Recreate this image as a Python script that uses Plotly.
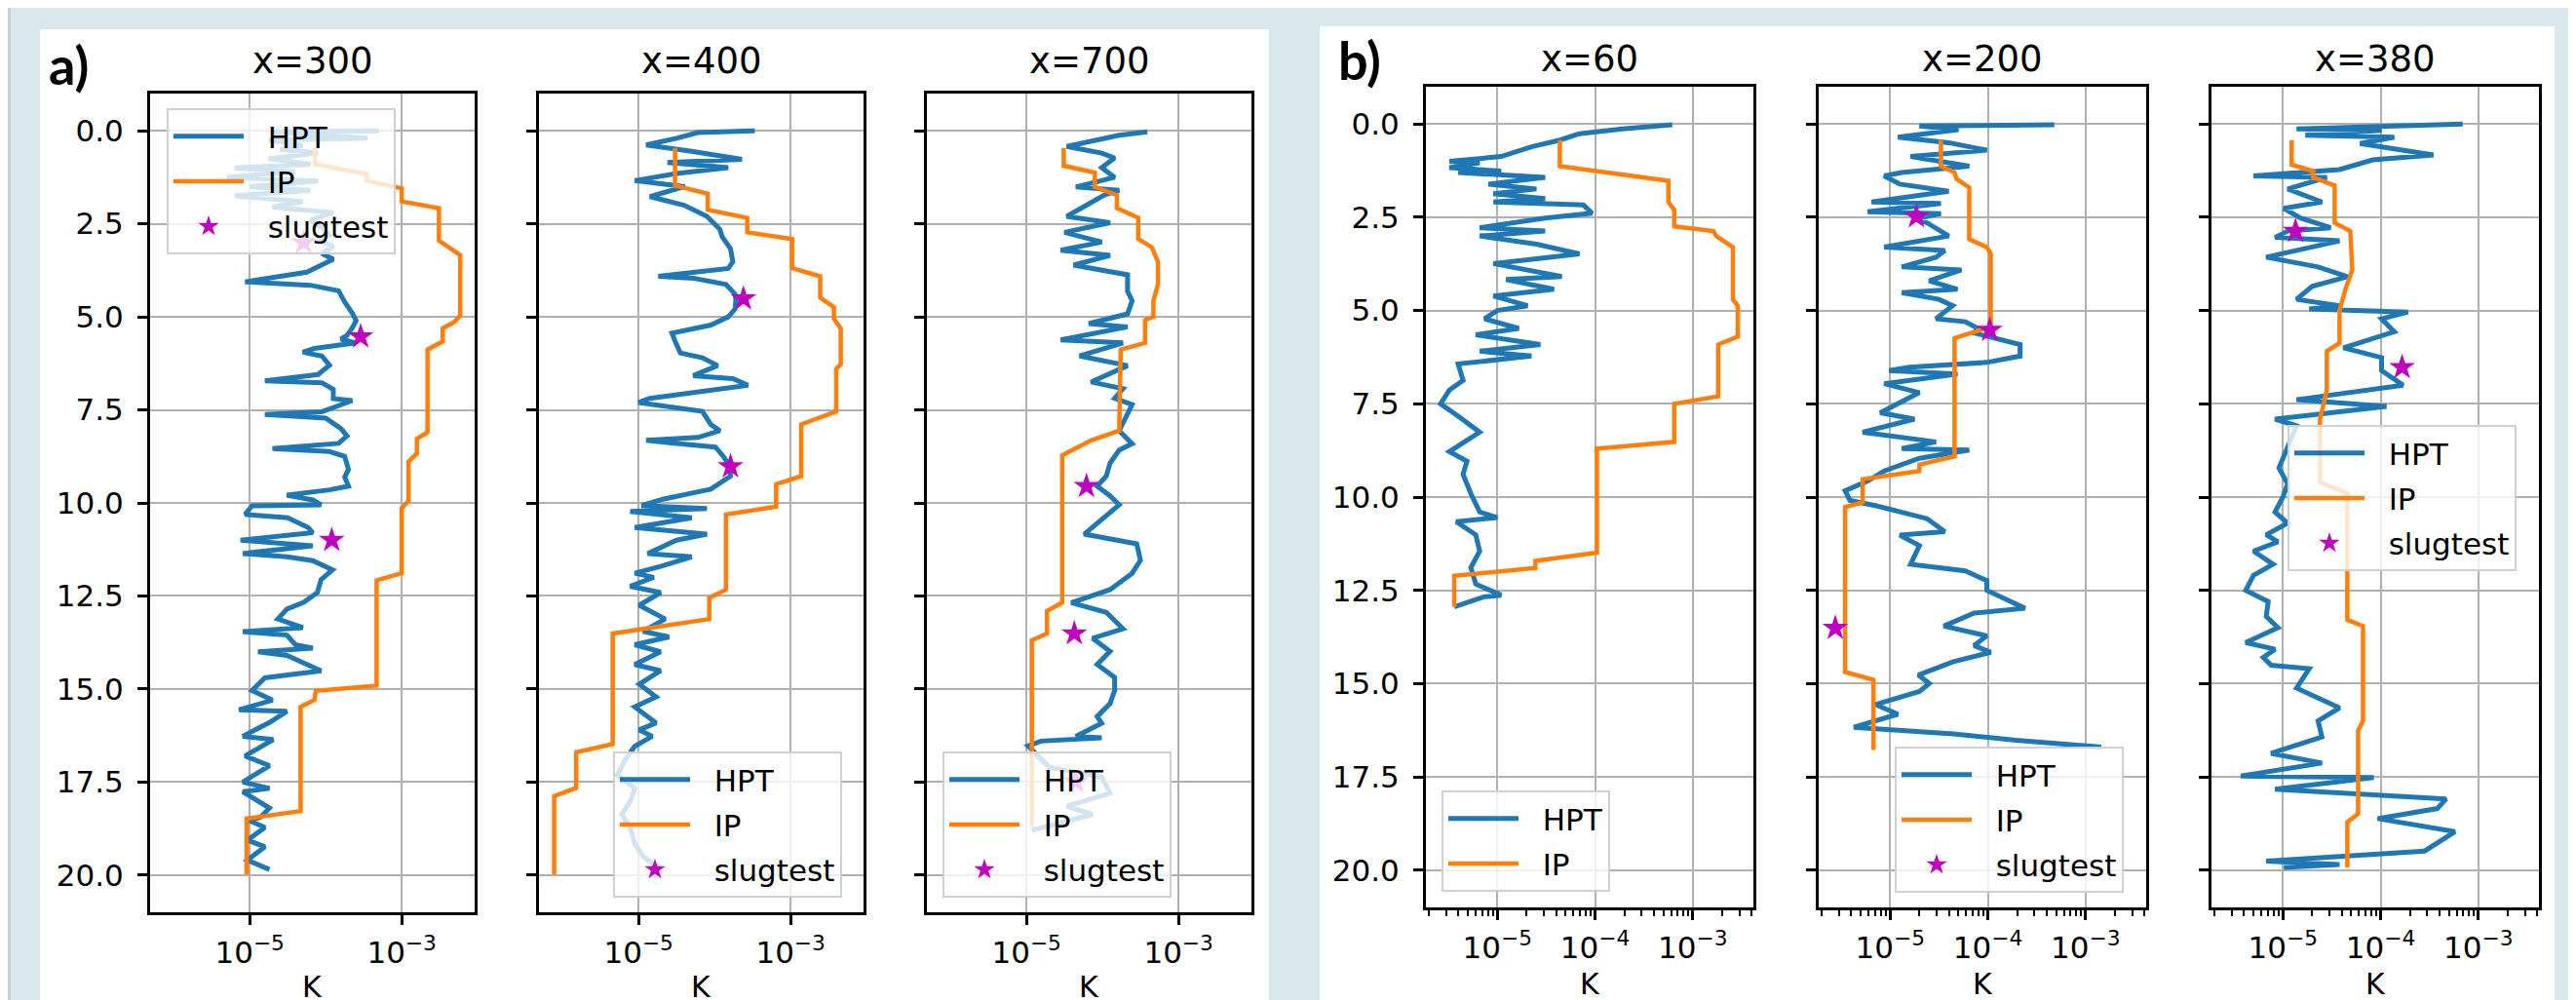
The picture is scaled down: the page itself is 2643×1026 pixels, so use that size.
import plotly.graph_objects as go

W, H = 2643, 1026

# ---------------- DATA (depth in m, log10 of K) ----------------
# Panel a) x=300
hpt_x300_depth = [0.00,0.03,0.10,0.20,0.25,0.40,0.50,0.60,0.75,0.90,1.00,1.10,1.25,1.35,1.50,1.60,1.75,1.90,2.05,2.20,
                  2.40,2.60,2.80,2.95,3.10,3.30,3.45,3.60,3.80,4.06,4.15,4.30,4.60,4.90,5.10,5.30,5.50,5.60,5.70,5.85,
                  5.95,6.05,6.30,6.55,6.72,6.77,6.95,7.20,7.25,7.40,7.55,7.62,7.72,8.00,8.20,8.40,8.54,8.62,8.75,9.10,
                  9.30,9.55,9.65,9.79,9.92,10.05,10.08,10.31,10.40,10.66,10.80,11.00,11.15,11.36,11.45,11.55,11.80,12.06,12.41,12.67,
                  12.85,13.12,13.35,13.46,13.55,13.81,13.90,14.00,14.10,14.51,14.70,15.04,15.30,15.56,15.60,15.90,16.27,16.36,16.80,17.06,
                  17.50,17.67,17.76,18.20,18.45,18.54,18.72,19.06,19.24,19.60,19.85]
hpt_x300_logk = [-3.30,-4.70,-4.20,-3.45,-4.75,-4.30,-4.60,-4.10,-4.75,-4.20,-5.20,-4.40,-5.30,-4.10,-5.00,-4.20,-5.20,-4.30,-4.70,-3.90,
                 -4.20,-4.05,-3.95,-4.10,-3.90,-4.05,-3.90,-4.05,-4.25,-5.06,-4.20,-3.83,-3.75,-3.65,-3.60,-3.65,-3.72,-3.80,-3.60,-4.15,
                 -4.30,-4.05,-3.95,-4.10,-4.80,-4.05,-3.90,-3.90,-3.65,-3.85,-4.05,-4.80,-4.00,-3.80,-3.72,-3.83,-4.70,-3.95,-3.75,-3.70,
                 -3.75,-3.70,-3.95,-4.51,-4.17,-4.06,-4.97,-5.06,-4.50,-4.23,-4.17,-5.12,-4.17,-5.09,-4.51,-4.17,-3.91,-4.06,-4.11,-4.29,
                 -4.51,-4.63,-4.30,-5.09,-4.51,-4.40,-4.17,-4.89,-4.51,-4.06,-4.80,-4.97,-4.70,-5.14,-4.51,-4.74,-5.09,-4.69,-5.06,-4.74,
                 -5.09,-4.74,-5.09,-4.74,-4.86,-5.00,-4.80,-5.03,-4.80,-5.03,-4.74]
ip_x300_depth = [0.46,0.90,1.16,1.34,1.55,1.90,2.08,2.95,3.34,4.96,5.14,5.31,5.66,5.88,8.10,8.28,8.67,8.89,9.95,10.14,
                 11.89,12.08,14.91,15.05,15.30,15.48,18.28,18.48,19.98]
ip_x300_logk = [-4.14,-4.14,-3.46,-3.46,-3.00,-3.00,-2.51,-2.51,-2.23,-2.23,-2.31,-2.46,-2.46,-2.66,-2.66,-2.80,-2.80,-2.91,-2.91,-3.00,
                -3.00,-3.33,-3.33,-4.13,-4.15,-4.33,-4.33,-5.04,-5.04]
slug_x300_depth = [3.0, 5.53, 11.0]
slug_x300_logk = [-4.29, -3.54, -3.92]

# Panel a) x=400
hpt_x400_depth = [0.00,0.05,0.20,0.38,0.55,0.77,0.85,0.99,1.15,1.34,1.50,1.77,2.00,2.30,2.65,2.85,3.17,3.52,3.70,3.91,
                  3.96,4.13,4.39,4.55,4.79,5.00,5.22,5.44,5.70,5.97,6.10,6.31,6.58,6.66,6.84,7.01,7.19,7.30,7.40,7.54,
                  7.89,8.06,8.24,8.32,8.40,8.50,8.76,9.02,9.28,9.63,9.90,10.07,10.15,10.23,10.40,10.66,10.84,11.00,11.36,11.45,
                  11.70,11.89,12.00,12.24,12.41,12.75,13.12,13.45,13.60,13.81,14.00,14.34,14.51,14.87,15.21,15.48,15.91,16.10,16.27,16.54,
                  16.88,17.32,17.67,18.02,18.37,18.72,19.15,19.50,19.85]
hpt_x400_logk = [-3.47,-4.22,-4.50,-4.90,-4.30,-3.64,-4.62,-3.82,-4.50,-5.05,-4.39,-4.85,-4.40,-4.10,-3.93,-3.90,-3.79,-3.76,-3.82,-4.74,
                 -4.28,-3.85,-3.73,-3.72,-3.73,-3.82,-4.05,-4.56,-4.51,-4.45,-4.16,-3.96,-4.28,-3.76,-3.56,-4.22,-4.85,-5.00,-4.60,-4.16,
                 -4.05,-3.93,-4.22,-4.90,-4.50,-3.99,-3.88,-3.80,-3.79,-4.05,-4.68,-4.96,-4.10,-5.11,-4.30,-5.05,-4.10,-4.50,-4.88,-4.30,
                 -4.70,-5.05,-4.80,-5.11,-4.71,-4.99,-4.65,-4.94,-4.60,-5.05,-4.71,-5.05,-4.71,-4.99,-4.77,-5.05,-4.77,-4.99,-4.82,-5.05,
                 -5.17,-5.28,-5.05,-5.11,-5.22,-5.11,-5.05,-4.94,-4.71]
ip_x400_depth = [0.46,1.47,1.69,2.12,2.34,2.73,2.91,3.69,3.91,4.48,4.74,5.05,5.31,6.27,6.40,7.54,7.89,9.28,9.50,10.10,
                 10.31,12.33,12.55,13.12,13.51,16.48,16.70,17.66,17.88,19.98]
ip_x400_logk = [-4.52,-4.52,-4.09,-4.09,-3.57,-3.57,-2.98,-2.98,-2.61,-2.61,-2.43,-2.43,-2.34,-2.34,-2.40,-2.40,-2.86,-2.86,-3.19,-3.19,
                -3.85,-3.85,-4.07,-4.07,-5.34,-5.34,-5.82,-5.82,-6.11,-6.11]
slug_x400_depth = [4.51, 9.02]
slug_x400_logk = [-3.62, -3.79]

# Panel a) x=700
hpt_x700_depth = [0.03,0.12,0.42,0.60,0.73,0.99,1.25,1.51,1.60,1.73,2.30,2.47,2.73,2.99,3.21,3.35,3.61,3.87,4.31,4.57,
                  4.92,5.18,5.27,5.62,5.70,6.05,6.31,6.75,6.93,7.19,7.36,7.89,8.06,8.41,8.58,8.93,9.28,9.55,9.81,10.05,
                  10.84,11.10,11.54,11.89,12.33,12.68,12.94,13.38,13.64,13.99,14.34,14.69,15.04,15.39,15.74,15.92,16.27,16.31,16.40,16.53,
                  17.10,17.37,17.80,18.15,18.37,18.80]
hpt_x700_logk = [-3.41,-3.78,-4.47,-4.01,-3.84,-4.01,-3.84,-4.35,-3.78,-3.98,-4.47,-3.90,-4.50,-4.01,-4.55,-3.90,-4.38,-3.67,-3.67,-3.61,
                 -3.67,-4.18,-3.67,-4.55,-3.73,-4.30,-3.67,-4.15,-3.73,-3.84,-3.61,-3.73,-3.78,-3.61,-3.78,-3.90,-3.95,-4.07,-3.90,-3.78,
                 -4.24,-3.55,-3.50,-3.61,-3.90,-4.41,-3.95,-3.73,-4.13,-3.90,-4.07,-3.84,-3.84,-3.90,-4.07,-4.01,-4.35,-4.01,-4.81,-4.98,
                 -4.70,-4.01,-3.90,-4.47,-4.13,-4.93]
ip_x700_depth = [0.46,0.94,1.12,1.51,1.73,2.08,2.34,2.91,3.13,3.52,4.13,4.57,5.00,5.09,5.70,5.88,8.06,8.32,8.72,12.68,
                 12.90,13.51,13.69,18.71]
ip_x700_logk = [-4.51,-4.51,-4.10,-4.10,-3.81,-3.81,-3.53,-3.53,-3.35,-3.27,-3.27,-3.33,-3.33,-3.44,-3.44,-3.76,-3.78,-4.15,-4.53,-4.53,
                -4.73,-4.73,-4.93,-4.93]
slug_x700_depth = [9.55, 13.51, 17.49]
slug_x700_logk = [-4.21, -4.37, -4.35]

# Panel b) x=60
hpt_x60_depth = [0.02,0.13,0.26,0.43,0.61,0.87,1.00,1.04,1.17,1.26,1.30,1.43,1.61,1.74,1.87,2.00,2.09,2.17,2.39,2.52,
                 2.78,2.87,3.00,3.22,3.48,3.74,4.09,4.17,4.43,4.61,4.87,5.00,5.22,5.48,5.65,5.91,6.09,6.22,6.43,6.87,
                 7.13,7.50,7.83,8.26,8.78,9.04,9.39,9.91,10.40,10.55,10.66,11.01,11.45,11.89,12.33,12.63,12.67,12.94]
hpt_x60_logk = [-3.21,-3.72,-4.16,-4.36,-4.65,-4.96,-5.49,-5.18,-5.49,-4.96,-5.40,-4.51,-5.09,-4.60,-5.04,-4.51,-5.04,-4.12,-4.03,-4.51,
                -5.18,-4.51,-5.18,-4.60,-4.16,-5.04,-4.34,-4.91,-4.42,-5.04,-4.69,-5.00,-5.13,-4.78,-5.22,-4.56,-5.18,-4.65,-5.40,-5.35,
                -5.49,-5.58,-5.40,-5.18,-5.49,-5.31,-5.35,-5.27,-5.18,-5.00,-5.42,-5.22,-5.18,-5.27,-5.22,-4.96,-5.13,-5.44]
ip_x60_depth = [0.43,1.13,1.52,2.09,2.30,2.74,2.87,3.00,3.30,4.70,4.87,5.70,5.91,7.30,7.50,8.52,8.70,11.49,11.71,11.90,
                12.11,12.94]
ip_x60_logk = [-4.36,-4.36,-3.25,-3.25,-3.19,-3.19,-2.79,-2.76,-2.59,-2.59,-2.54,-2.54,-2.74,-2.74,-3.19,-3.19,-3.98,-3.98,-4.61,-4.61,
               -5.44,-5.44]

# Panel b) x=200
hpt_x200_depth = [0.02,0.05,0.15,0.35,0.50,0.70,0.87,1.13,1.30,1.39,1.61,1.80,2.09,2.13,2.35,2.40,2.55,2.65,3.00,3.30,
                  3.39,3.57,3.83,3.91,4.20,4.43,4.52,4.70,4.87,5.22,5.30,5.48,5.60,5.91,6.22,6.39,6.52,6.61,6.70,6.96,
                  7.20,7.48,7.74,7.91,8.26,8.52,8.70,8.74,8.96,9.30,9.57,9.83,10.09,10.23,10.53,10.58,10.93,11.02,11.30,11.80,
                  11.98,12.24,12.50,12.98,13.11,13.46,13.72,13.98,14.16,14.42,14.77,15.00,15.21,15.56,15.82,16.17,16.35,16.52,16.70]
hpt_x200_logk = [-3.32,-4.70,-4.30,-4.92,-4.40,-4.01,-4.79,-4.19,-4.88,-5.06,-4.90,-4.40,-5.19,-4.48,-5.23,-4.48,-4.75,-4.62,-4.40,-5.06,
                 -4.44,-4.53,-4.88,-4.27,-4.60,-4.31,-4.88,-4.50,-4.36,-4.53,-4.23,-4.10,-4.14,-3.67,-3.67,-4.01,-4.80,-5.01,-4.31,-5.06,
                 -4.70,-4.92,-5.10,-4.75,-5.28,-4.53,-4.88,-4.19,-4.70,-5.06,-5.23,-5.46,-5.41,-5.15,-4.70,-4.62,-4.44,-4.90,-4.70,-4.79,
                 -4.23,-4.01,-4.01,-3.62,-4.14,-4.45,-4.01,-4.14,-3.97,-4.36,-4.71,-4.60,-4.70,-5.15,-4.92,-5.37,-4.35,-3.71,-2.84]
ip_x200_depth = [0.43,1.13,1.30,1.47,1.70,3.09,3.30,3.48,5.43,5.74,8.91,9.13,9.30,9.52,10.14,10.27,14.69,14.90,16.78]
ip_x200_logk = [-4.48,-4.48,-4.34,-4.32,-4.19,-4.19,-4.01,-3.97,-3.97,-4.34,-4.34,-4.70,-4.70,-5.28,-5.28,-5.46,-5.46,-5.17,-5.17]
slug_x200_depth = [2.48, 5.52, 13.51]
slug_x200_logk = [-4.73, -3.98, -5.56]

# Panel b) x=380
hpt_x380_depth = [0.00,0.13,0.17,0.30,0.35,0.52,0.83,0.96,1.22,1.39,1.43,1.74,2.09,2.26,2.52,2.78,2.87,3.04,3.13,3.57,
                  3.83,4.09,4.35,4.70,4.87,4.96,5.04,5.22,5.57,6.00,6.26,6.61,7.00,7.39,7.57,7.91,8.09,8.87,9.22,9.65,
                  10.00,10.40,10.70,11.01,11.20,11.45,11.80,12.10,12.50,12.80,13.20,13.50,13.90,14.08,14.30,14.51,14.60,15.12,15.65,16.00,
                  16.43,16.87,17.13,17.48,17.52,17.83,18.09,18.35,18.62,18.97,19.49,19.76,19.85,19.93]
hpt_x380_logk = [-3.16,-4.86,-3.99,-4.77,-3.86,-4.21,-3.46,-4.08,-4.42,-5.30,-4.55,-4.95,-4.60,-4.99,-4.82,-4.51,-4.95,-5.08,-4.42,-5.17,
                 -4.64,-4.34,-4.70,-4.86,-4.42,-4.73,-3.72,-3.99,-3.86,-4.38,-3.99,-3.99,-3.77,-4.86,-3.94,-5.08,-4.86,-4.99,-5.04,-4.95,
                 -5.00,-5.08,-4.95,-5.17,-5.05,-5.30,-5.10,-5.30,-5.38,-5.15,-5.17,-5.05,-5.38,-5.08,-5.20,-5.12,-4.73,-4.86,-4.42,-4.64,
                 -4.60,-5.12,-4.60,-5.43,-4.07,-5.08,-3.33,-3.42,-4.03,-3.24,-3.55,-5.17,-4.42,-4.99]
ip_x380_depth = [0.43,1.09,1.26,1.43,1.65,2.65,2.87,3.91,4.43,5.00,5.87,6.09,7.13,7.91,9.60,9.90,13.29,13.46,16.00,16.26,
                 18.49,18.71,19.93]
ip_x380_logk = [-4.91,-4.91,-4.69,-4.69,-4.47,-4.47,-4.31,-4.29,-4.36,-4.42,-4.42,-4.55,-4.55,-4.62,-4.62,-4.34,-4.34,-4.18,-4.18,-4.23,
                -4.23,-4.34,-4.34]
slug_x380_depth = [2.87, 6.52]
slug_x380_logk = [-4.87, -3.78]

subplot_titles = ["x=300", "x=400", "x=700", "x=60", "x=200", "x=380"]
series_names = ["HPT", "IP", "slugtest"]
depth_ticks = [0, 2.5, 5, 7.5, 10, 12.5, 15, 17.5, 20]
depth_tick_labels = ["0.0", "2.5", "5.0", "7.5", "10.0", "12.5", "15.0", "17.5", "20.0"]
k_ticks_a = [1e-5, 1e-3]
k_ticks_b = [1e-5, 1e-4, 1e-3]
k_tick_labels_a = ["10<sup>\u22125</sup>", "10<sup>\u22123</sup>"]
k_tick_labels_b = ["10<sup>\u22125</sup>", "10<sup>\u22124</sup>", "10<sup>\u22123</sup>"]

panels = [
    (hpt_x300_depth, hpt_x300_logk, ip_x300_depth, ip_x300_logk, slug_x300_depth, slug_x300_logk),
    (hpt_x400_depth, hpt_x400_logk, ip_x400_depth, ip_x400_logk, slug_x400_depth, slug_x400_logk),
    (hpt_x700_depth, hpt_x700_logk, ip_x700_depth, ip_x700_logk, slug_x700_depth, slug_x700_logk),
    (hpt_x60_depth, hpt_x60_logk, ip_x60_depth, ip_x60_logk, [], []),
    (hpt_x200_depth, hpt_x200_logk, ip_x200_depth, ip_x200_logk, slug_x200_depth, slug_x200_logk),
    (hpt_x380_depth, hpt_x380_logk, ip_x380_depth, ip_x380_logk, slug_x380_depth, slug_x380_logk),
]

# ---------------- LAYOUT GEOMETRY (pixels) ----------------
FONT = "DejaVu Sans"
TICK_SIZE = 31
TITLE_SIZE = 37
LEGEND_SIZE = 31
C_HPT, C_IP, C_SLUG = "#1f77b4", "#ff7f0e", "#bf00bf"
axes_px = [(146, 479, 88, 928), (545, 878, 88, 928), (943, 1276, 88, 928),
           (1455, 1791, 81, 923), (1858, 2194, 81, 923), (2261, 2597, 81, 923)]
legend_px = [(163, 103), (621, 763), (959, 763), (1471, 803), (1936, 758), (2339, 428)]
xrange_a = [-6.31, -2.04]
xrange_b = [-5.73, -2.38]
NBSP = "\u00a0\u00a0"  # visual gap between legend line sample and its label


def fx(x):
    return x / W


def fy(y):
    return 1 - y / H


fig = go.Figure()

minor_b = [m * 10.0 ** e for e in (-6, -5, -4, -3) for m in range(2, 10)]

for i, (hd, hk, idp, ik, sd, sk) in enumerate(panels):
    n = i + 1
    xa = "x" if n == 1 else f"x{n}"
    ya = "y" if n == 1 else f"y{n}"
    lg = "legend" if n == 1 else f"legend{n}"
    fig.add_trace(go.Scatter(x=[10 ** v for v in hk], y=hd, mode="lines", name=NBSP + series_names[0],
                             line=dict(color=C_HPT, width=5), xaxis=xa, yaxis=ya,
                             legend=lg, legendgroup=f"h{n}"))
    fig.add_trace(go.Scatter(x=[10 ** v for v in ik], y=idp, mode="lines", name=NBSP + series_names[1],
                             line=dict(color=C_IP, width=4.5), xaxis=xa, yaxis=ya,
                             legend=lg, legendgroup=f"i{n}"))
    if sd:
        fig.add_trace(go.Scatter(x=[10 ** v for v in sk], y=sd, mode="markers", name=NBSP + series_names[2],
                                 marker=dict(symbol="star", size=20, color=C_SLUG, line=dict(width=0)),
                                 xaxis=xa, yaxis=ya, legend=lg, legendgroup=f"s{n}"))

    l, r, t, b = axes_px[i]
    is_a = i < 3
    xaxis = dict(
        type="log", range=xrange_a if is_a else xrange_b, domain=[fx(l), fx(r)], anchor=ya,
        tickmode="array", tickvals=k_ticks_a if is_a else k_ticks_b,
        ticktext=k_tick_labels_a if is_a else k_tick_labels_b,
        showgrid=True, gridcolor="#b0b0b0", gridwidth=2, zeroline=False,
        showline=True, linecolor="black", linewidth=3, mirror=True,
        ticks="outside", ticklen=10, tickwidth=2.5, tickcolor="black",
        tickfont=dict(family=FONT, size=TICK_SIZE, color="black"), ticklabelstandoff=2,
    )
    if not is_a:
        xaxis["minor"] = dict(tickmode="array", tickvals=minor_b, ticks="outside", ticklen=6,
                              tickwidth=1.5, tickcolor="black", showgrid=False)
    yaxis = dict(
        range=[21, -1], domain=[fy(b), fy(t)], anchor=xa,
        tickmode="array", tickvals=depth_ticks, ticktext=depth_tick_labels,
        showticklabels=(i in (0, 3)),
        showgrid=True, gridcolor="#b0b0b0", gridwidth=2, zeroline=False,
        showline=True, linecolor="black", linewidth=3, mirror=True,
        ticks="outside", ticklen=10, tickwidth=2.5, tickcolor="black",
        tickfont=dict(family=FONT, size=TICK_SIZE, color="black"), ticklabelstandoff=8,
    )
    fig.layout["xaxis" if n == 1 else f"xaxis{n}"] = xaxis
    fig.layout["yaxis" if n == 1 else f"yaxis{n}"] = yaxis

    lx, ly = legend_px[i]
    fig.layout[lg] = dict(x=fx(lx), y=fy(ly), xanchor="left", yanchor="top",
                          bgcolor="rgba(255,255,255,0.8)", bordercolor="#d0d0d0", borderwidth=2,
                          font=dict(family=FONT, size=LEGEND_SIZE, color="black"),
                          tracegroupgap=3, itemwidth=72)

    cx = (l + r) / 2
    fig.add_annotation(x=fx(cx), y=fy(55 if is_a else 52), xref="paper", yref="paper",
                       text=subplot_titles[i], showarrow=False,
                       font=dict(family=FONT, size=TITLE_SIZE, color="black"), xanchor="center", yanchor="middle")
    fig.add_annotation(x=fx(cx), y=fy(1004 if is_a else 1001), xref="paper", yref="paper",
                       text="K", showarrow=False,
                       font=dict(family=FONT, size=30, color="black"), xanchor="center", yanchor="middle")

fig.add_annotation(x=fx(40), y=fy(58), xref="paper", yref="paper", text="<b>a)</b>", showarrow=False,
                   font=dict(family="Lato", size=54, color="black"), xanchor="left", yanchor="middle")
fig.add_annotation(x=fx(1363), y=fy(54), xref="paper", yref="paper", text="<b>b)</b>", showarrow=False,
                   font=dict(family="Lato", size=54, color="black"), xanchor="left", yanchor="middle")

shapes = [
    dict(type="rect", xref="paper", yref="paper", x0=fx(33), x1=fx(1294), y0=0, y1=fy(22),
         fillcolor="white", line=dict(width=0), layer="below"),
    dict(type="rect", xref="paper", yref="paper", x0=fx(1346), x1=fx(2613), y0=0, y1=fy(19),
         fillcolor="white", line=dict(width=0), layer="below"),
    dict(type="rect", xref="paper", yref="paper", x0=fx(2628), x1=1, y0=0, y1=1,
         fillcolor="black", line=dict(width=0), layer="below"),
    dict(type="rect", xref="paper", yref="paper", x0=0, x1=fx(3), y0=0, y1=1,
         fillcolor="#c3d3da", line=dict(width=0), layer="below"),
]
fig.update_layout(
    width=W, height=H, margin=dict(l=0, r=0, t=0, b=0),
    paper_bgcolor="#dae8ee", plot_bgcolor="white", showlegend=True, shapes=shapes,
)

fig.write_html("out.html")
